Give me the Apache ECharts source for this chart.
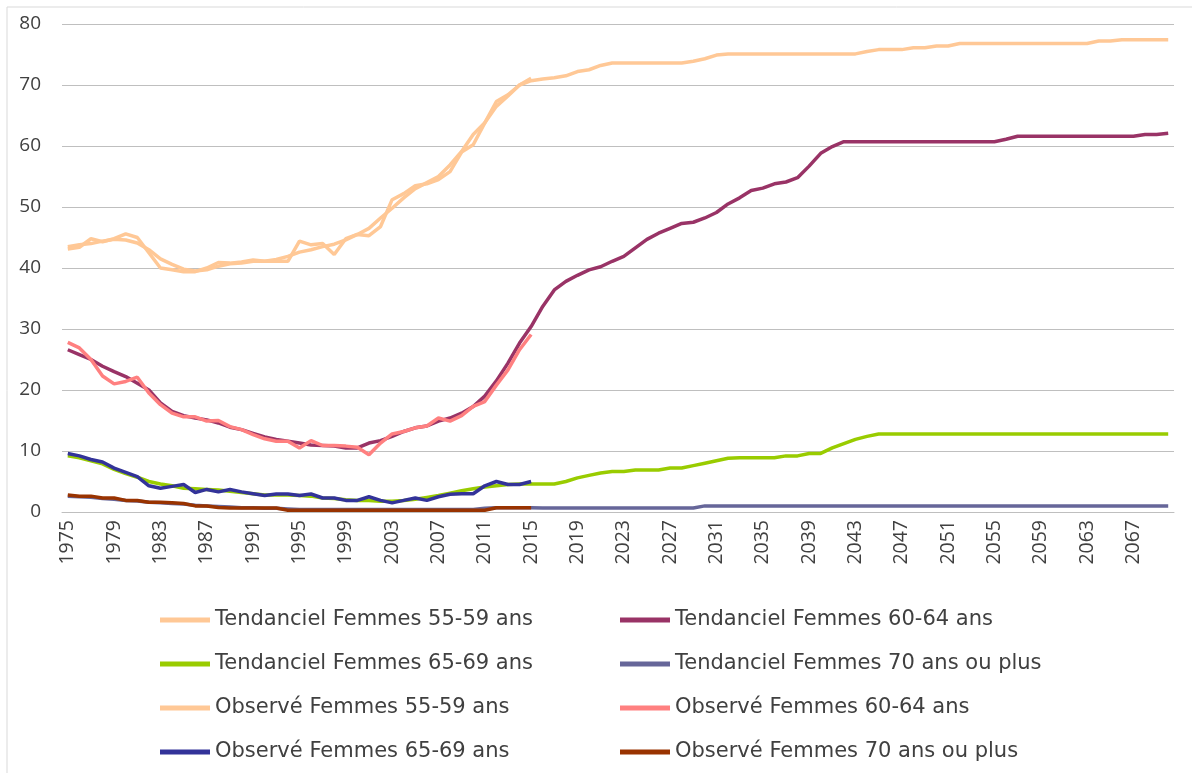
<!DOCTYPE html>
<html>
<head>
<meta charset="utf-8">
<script src="https://cdn.jsdelivr.net/npm/echarts@6/dist/echarts.min.js"></script>
<style>
  html, body { margin: 0; padding: 0; background: #fff; }
  #chart { width: 1192px; height: 773px; }
</style>
</head>
<body>
<div id="chart"></div>
<script>
// years 1975..2070
const years = [];
for (let y = 1975; y <= 2070; y++) years.push(String(y));

const seriesNames = [
  'Tendanciel Femmes 55-59 ans', 'Tendanciel Femmes 60-64 ans',
  'Tendanciel Femmes 65-69 ans', 'Tendanciel Femmes 70 ans ou plus',
  'Observé Femmes 55-59 ans', 'Observé Femmes 60-64 ans',
  'Observé Femmes 65-69 ans', 'Observé Femmes 70 ans ou plus'
];
const seriesColors = ['#FFC896', '#993366', '#99CC00', '#666699', '#FFC896', '#FF8080', '#333399', '#993300'];

const tend55 = [
  43.5, 43.8, 44.0, 44.4, 44.7, 44.6, 44.1, 43.0, 41.5, 40.6,
  39.8, 39.5, 39.7, 40.3, 40.7, 40.8, 41.1, 41.1, 41.4, 41.9,
  42.6, 43.0, 43.5, 43.9, 44.6, 45.5, 46.5, 48.2, 49.8, 51.5,
  53.0, 54.0, 55.0, 56.9, 59.1, 61.9, 63.8, 66.5, 68.2, 70.0,
  70.7, 71.0, 71.2, 71.5, 72.2, 72.5, 73.2, 73.6, 73.6, 73.6,
  73.6, 73.6, 73.6, 73.6, 73.9, 74.3, 74.9, 75.1, 75.1, 75.1,
  75.1, 75.1, 75.1, 75.1, 75.1, 75.1, 75.1, 75.1, 75.1, 75.5,
  75.8, 75.8, 75.8, 76.1, 76.1, 76.4, 76.4, 76.8, 76.8, 76.8,
  76.8, 76.8, 76.8, 76.8, 76.8, 76.8, 76.8, 76.8, 76.8, 77.2,
  77.2, 77.4, 77.4, 77.4, 77.4, 77.4
];
const tend60 = [
  26.6, 25.8, 25.0, 23.9, 23.0, 22.2, 21.1, 20.0, 17.9, 16.5,
  15.8, 15.4, 15.1, 14.6, 13.9, 13.5, 12.9, 12.3, 11.9, 11.6,
  11.3, 11.0, 10.9, 10.8, 10.5, 10.5, 11.3, 11.7, 12.4, 13.2,
  13.8, 14.1, 14.9, 15.4, 16.2, 17.3, 19.0, 21.5, 24.4, 27.7,
  30.4, 33.7, 36.4, 37.8, 38.8, 39.7, 40.2, 41.1, 41.9, 43.3,
  44.7, 45.7, 46.5, 47.3, 47.5, 48.2, 49.1, 50.5, 51.5, 52.7,
  53.1, 53.8, 54.1, 54.8, 56.7, 58.8, 59.9, 60.7, 60.7, 60.7,
  60.7, 60.7, 60.7, 60.7, 60.7, 60.7, 60.7, 60.7, 60.7, 60.7,
  60.7, 61.1, 61.6, 61.6, 61.6, 61.6, 61.6, 61.6, 61.6, 61.6,
  61.6, 61.6, 61.6, 61.9, 61.9, 62.1
];
const tend65 = [
  9.2, 8.9, 8.4, 7.9, 7.0, 6.3, 5.7, 5.0, 4.6, 4.3,
  3.9, 3.8, 3.7, 3.6, 3.4, 3.2, 3.0, 2.8, 2.8, 2.8,
  2.7, 2.6, 2.3, 2.2, 2.0, 1.9, 1.9, 1.75, 1.75, 1.9,
  2.1, 2.4, 2.7, 3.1, 3.5, 3.8, 4.1, 4.3, 4.5, 4.6,
  4.6, 4.6, 4.6, 5.0, 5.6, 6.0, 6.4, 6.65, 6.65, 6.9,
  6.9, 6.9, 7.2, 7.2, 7.6, 8.0, 8.4, 8.8, 8.9, 8.9,
  8.9, 8.9, 9.2, 9.2, 9.6, 9.6, 10.5, 11.2, 11.9, 12.4,
  12.8, 12.8, 12.8, 12.8, 12.8, 12.8, 12.8, 12.8, 12.8, 12.8,
  12.8, 12.8, 12.8, 12.8, 12.8, 12.8, 12.8, 12.8, 12.8, 12.8,
  12.8, 12.8, 12.8, 12.8, 12.8, 12.8
];
const tend70 = [
  2.6, 2.5, 2.4, 2.2, 2.1, 1.9, 1.8, 1.6, 1.5, 1.4,
  1.3, 1.1, 1.0, 0.9, 0.8, 0.7, 0.7, 0.6, 0.6, 0.5,
  0.4, 0.4, 0.4, 0.4, 0.4, 0.4, 0.4, 0.4, 0.4, 0.4,
  0.4, 0.4, 0.4, 0.4, 0.4, 0.4, 0.6, 0.7, 0.7, 0.7,
  0.7, 0.65, 0.65, 0.65, 0.65, 0.65, 0.65, 0.65, 0.65, 0.65,
  0.65, 0.65, 0.65, 0.65, 0.65, 1.0, 1.0, 1.0, 1.0, 1.0,
  1.0, 1.0, 1.0, 1.0, 1.0, 1.0, 1.0, 1.0, 1.0, 1.0,
  1.0, 1.0, 1.0, 1.0, 1.0, 1.0, 1.0, 1.0, 1.0, 1.0,
  1.0, 1.0, 1.0, 1.0, 1.0, 1.0, 1.0, 1.0, 1.0, 1.0,
  1.0, 1.0, 1.0, 1.0, 1.0, 1.0
];
// observed values stop in 2015
const obs55 = [
  43.1, 43.4, 44.8, 44.3, 44.8, 45.6, 45.0, 42.5, 40.0, 39.7,
  39.4, 39.4, 40.0, 40.9, 40.8, 41.0, 41.3, 41.1, 41.1, 41.1,
  44.4, 43.8, 44.0, 42.2, 44.8, 45.5, 45.3, 46.8, 51.2, 52.2,
  53.5, 53.8, 54.5, 55.8, 59.0, 60.2, 63.8, 67.3, 68.4, 70.0,
  71.1
];
const obs60 = [
  27.8, 26.9, 25.0, 22.3, 21.0, 21.4, 22.1, 19.5, 17.6, 16.2,
  15.6, 15.6, 14.9, 15.0, 14.0, 13.5, 12.7, 12.0, 11.6, 11.6,
  10.5, 11.7, 10.9, 10.9, 10.8, 10.6, 9.4, 11.3, 12.8, 13.2,
  13.8, 14.1, 15.4, 14.9, 15.8, 17.3, 18.1, 20.8, 23.3, 26.6,
  29.1
];
const obs65 = [
  9.6, 9.2, 8.6, 8.2, 7.2, 6.5, 5.8, 4.3, 3.9, 4.2,
  4.5, 3.2, 3.7, 3.3, 3.7, 3.3, 3.0, 2.7, 2.95, 2.95,
  2.7, 2.95, 2.3, 2.3, 1.9, 1.9, 2.5, 1.9, 1.5, 1.9,
  2.3, 1.9, 2.5, 2.9, 3.0, 3.0, 4.3, 5.0, 4.5, 4.5,
  5.0
];
const obs70 = [
  2.8, 2.6, 2.6, 2.3, 2.3, 1.9, 1.9, 1.6, 1.6, 1.5,
  1.4, 1.0, 1.0, 0.75, 0.65, 0.65, 0.65, 0.65, 0.65, 0.3,
  0.3, 0.3, 0.3, 0.3, 0.3, 0.3, 0.3, 0.3, 0.3, 0.3,
  0.3, 0.3, 0.3, 0.3, 0.3, 0.3, 0.3, 0.7, 0.7, 0.7,
  0.7
];
const yTicks = { min: 0, max: 80, interval: 10 };

const allData = [tend55, tend60, tend65, tend70, obs55, obs60, obs65, obs70];
const FONT = '"Open Sans", sans-serif';

function legendBlock(names, left) {
  return {
    orient: 'vertical', left: left, top: 603,
    data: names, icon: 'rect', itemWidth: 50, itemHeight: 5, itemGap: 20,
    textStyle: { color: '#404040', fontSize: 21, fontFamily: '"DejaVu Sans", sans-serif', lineHeight: 24 },
  };
}

const chart = echarts.init(document.getElementById('chart'));
chart.setOption({
  animation: false,
  backgroundColor: '#fff',
  graphic: [{
    type: 'rect', shape: { x: 7, y: 7, width: 1200, height: 800 },
    style: { fill: 'none', stroke: '#D9D9D9', lineWidth: 1 }, silent: true,
  }],
  grid: { left: 62, right: 18, top: 24, bottom: 261 },
  legend: [
    legendBlock([seriesNames[0], seriesNames[2], seriesNames[4], seriesNames[6]], 155),
    legendBlock([seriesNames[1], seriesNames[3], seriesNames[5], seriesNames[7]], 615),
  ],
  xAxis: {
    type: 'category', data: years, boundaryGap: true,
    axisLine: { lineStyle: { color: '#BFBFBF' } },
    axisTick: { show: false },
    axisLabel: { interval: 3, rotate: 90, margin: 8, color: '#404040', fontSize: 19.5, fontFamily: FONT },
  },
  yAxis: {
    type: 'value', min: yTicks.min, max: yTicks.max, interval: yTicks.interval,
    axisLine: { show: false }, axisTick: { show: false },
    axisLabel: { margin: 21, color: '#404040', fontSize: 19, fontFamily: FONT },
    splitLine: { lineStyle: { color: '#BFBFBF', width: 1 } },
  },
  series: seriesNames.map((name, i) => ({
    name, type: 'line', data: allData[i],
    showSymbol: false, symbol: 'none',
    lineStyle: { color: seriesColors[i], width: 3.5 },
    itemStyle: { color: seriesColors[i] },
  })),
});
</script>
</body>
</html>
